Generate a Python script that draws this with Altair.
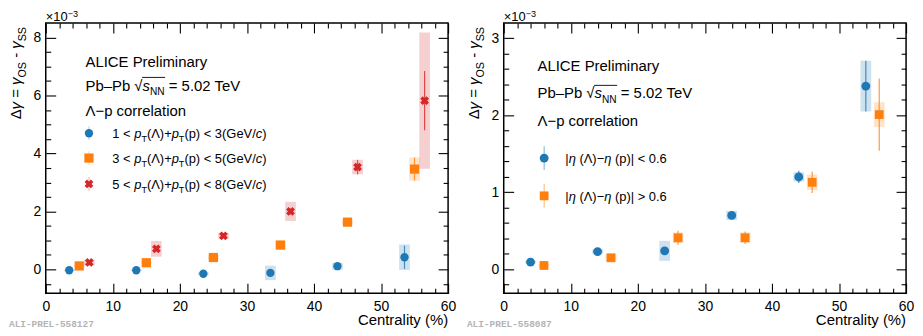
import altair as alt
import pandas as pd

# ---------------- values (units of 1e-3) ----------------
# Left panel: three pT(Lambda)+pT(p) ranges
pt_names = ["1-3", "3-5", "5-8"]
pt_cent = [
    [3.5, 13.5, 23.5, 33.5, 43.5, 53.5],
    [5.0, 15.0, 25.0, 35.0, 45.0, 55.0],
    [6.5, 16.5, 26.5, 36.5, 46.5, 56.5],
]
pt_val = [
    [-0.03, -0.03, -0.15, -0.12, 0.11, 0.42],
    [0.12, 0.23, 0.41, 0.84, 1.63, 3.46],
    [0.24, 0.71, 1.16, 2.00, 3.53, 5.82],
]
pt_stat = [
    [0.04, 0.04, 0.05, 0.06, 0.07, 0.40],
    [0.04, 0.05, 0.06, 0.08, 0.08, 0.40],
    [0.06, 0.10, 0.08, 0.10, 0.25, 1.02],
]
pt_syst = [
    [0.03, 0.03, 0.05, 0.25, 0.12, 0.44],
    [0.05, 0.05, 0.08, 0.15, 0.08, 0.40],
    [0.10, 0.27, 0.10, 0.33, 0.25, 2.35],
]

# Right panel: two |eta(Lambda)-eta(p)| ranges
eta_names = ["lt", "gt"]
eta_cent = [
    [4.0, 14.0, 24.0, 34.0, 44.0, 54.0],
    [6.0, 16.0, 26.0, 36.0, 46.0, 56.0],
]
eta_val = [
    [0.094, 0.23, 0.24, 0.70, 1.20, 2.38],
    [0.05, 0.15, 0.41, 0.41, 1.13, 2.01],
]
eta_stat = [
    [0.02, 0.02, 0.03, 0.04, 0.08, 0.33],
    [0.02, 0.03, 0.09, 0.08, 0.14, 0.47],
]
eta_syst = [
    [0.02, 0.03, 0.13, 0.06, 0.06, 0.33],
    [0.02, 0.05, 0.07, 0.07, 0.10, 0.16],
]

# axes
x_domain = [0, 60]
x_major = [0, 10, 20, 30, 40, 50, 60]
x_minor = [2, 4, 6, 8, 12, 14, 16, 18, 22, 24, 26, 28, 32, 34, 36, 38,
           42, 44, 46, 48, 52, 54, 56, 58]
yl_domain = [-0.82, 8.5]
yl_major = [0, 2, 4, 6, 8]
yl_minor = [-0.5, 0.5, 1, 1.5, 2.5, 3, 3.5, 4.5, 5, 5.5, 6.5, 7, 7.5]
yr_domain = [-0.31, 3.2]
yr_major = [0, 1, 2, 3]
yr_minor = [-0.2, 0.2, 0.4, 0.6, 0.8, 1.2, 1.4, 1.6, 1.8, 2.2, 2.4, 2.6, 2.8]

# texts
title_lines = ["ALICE Preliminary", "Λ−p correlation"]
pbpb_segs = [("Pb–Pb ", "n"), ("√", "n"), ("s", "i"), ("NN", "sub"), (" = 5.02 TeV", "n")]
pt_legend = [
    [("1 < ", "n"), ("p", "i"), ("T", "sub"), ("(Λ)+", "n"), ("p", "i"), ("T", "sub"),
     ("(p) < 3(GeV/", "n"), ("c", "i"), (")", "n")],
    [("3 < ", "n"), ("p", "i"), ("T", "sub"), ("(Λ)+", "n"), ("p", "i"), ("T", "sub"),
     ("(p) < 5(GeV/", "n"), ("c", "i"), (")", "n")],
    [("5 < ", "n"), ("p", "i"), ("T", "sub"), ("(Λ)+", "n"), ("p", "i"), ("T", "sub"),
     ("(p) < 8(GeV/", "n"), ("c", "i"), (")", "n")],
]
eta_legend = [
    [("|", "n"), ("η", "i"), (" (Λ)−", "n"), ("η", "i"), (" (p)| < 0.6", "n")],
    [("|", "n"), ("η", "i"), (" (Λ)−", "n"), ("η", "i"), (" (p)| > 0.6", "n")],
]
ytitle_segs = [("Δ", "n"), ("γ", "i"), (" = ", "n"), ("γ", "i"), ("OS", "sub"),
               (" - ", "n"), ("γ", "i"), ("SS", "sub")]
exp_segs = [("×10", "n"), ("−3", "sup")]
x_title = "Centrality (%)"
prel_tags = ["ALI-PREL-558127", "ALI-PREL-558087"]

# ---------------- style ----------------
FONT = "Liberation Sans"
BLUE, ORANGE, RED = "#1f77b4", "#ff7f0e", "#d62728"
W_PANEL, H_PANEL = 405, 272
BOX_HW = 0.8

# Arial / Liberation Sans advance widths (per 1000 em)
WID = {" ": 278, "(": 333, ")": 333, "+": 584, "-": 333, ".": 278, "/": 278,
       "<": 584, "=": 584, ">": 584, "|": 260, "%": 889,
       "A": 667, "C": 722, "E": 667, "G": 778, "I": 278, "L": 556, "N": 722,
       "O": 778, "P": 667, "S": 667, "T": 611, "V": 667,
       "a": 556, "b": 556, "c": 500, "e": 556, "i": 222, "l": 222, "m": 833,
       "n": 556, "o": 556, "p": 556, "r": 333, "s": 500, "t": 278, "v": 500,
       "y": 500, "–": 556, "−": 584, "Λ": 667, "η": 556, "γ": 500, "Δ": 668,
       "√": 549, "×": 584}


def tw(s, size):
    return sum(WID.get(ch, 556) for ch in s) * size / 1000.0


DUMMY = pd.DataFrame({"k": [0]})


def txt(text, x, y, size, italic=False, angle=0, align="left", color="black",
        font=FONT, weight="normal"):
    return alt.Chart(DUMMY).mark_text(
        text=text, fontSize=round(size, 2), fontStyle="italic" if italic else "normal",
        align=align, baseline="alphabetic", angle=angle, color=color, font=font,
        fontWeight=weight,
    ).encode(x=alt.value(round(x, 2)), y=alt.value(round(y, 2)))


def rich(segs, x0, y0, size, angle=0, sub=0.3, sup=0.27, rel=0.7):
    """Place each piece of a formatted string; spaces are turned into advances
    because SVG drops leading/trailing blanks of a text element."""
    out, spans, a = [], [], 0.0
    for s, kind in segs:
        small = kind in ("sub", "sup")
        fs = size * rel if small else size
        off = size * sub if kind == "sub" else (-size * sup if kind == "sup" else 0)
        lead = len(s) - len(s.lstrip(" "))
        core = s.strip(" ")
        a_draw = a + tw(" " * lead, fs)
        if angle == 0:
            px, py = x0 + a_draw, y0 + off
        else:
            px, py = x0 + off, y0 - a_draw
        if core:
            out.append(txt(core, px, py, fs, italic=(kind == "i"), angle=angle))
        w = tw(s, fs)
        spans.append((a, a + w))
        a += w
    return out, spans


def vrule(x, y1, y2, color, opacity=1.0, width=1.0):
    return alt.Chart(DUMMY).mark_rule(color=color, opacity=opacity, strokeWidth=width).encode(
        x=alt.value(x), y=alt.value(y1), y2=alt.value(y2))


def hrule(x1, x2, y, color="black", width=1.0):
    return alt.Chart(DUMMY).mark_rule(color=color, strokeWidth=width).encode(
        x=alt.value(x1), x2=alt.value(x2), y=alt.value(y))


def marker(x, y, shape, color, size, angle=0):
    return alt.Chart(DUMMY).mark_point(shape=shape, filled=True, color=color, size=size,
                                       angle=angle, opacity=1).encode(
        x=alt.value(x), y=alt.value(y))


def axis(orient, values, size, labels):
    kw = dict(orient=orient, values=values, tickSize=size, offset=-size, labels=labels,
              domain=False, grid=False, title=None, ticks=True, tickColor="black",
              tickWidth=1.1)
    if labels:
        kw.update(labelFont=FONT, labelFontSize=14, labelColor="black", labelFlush=False,
                  labelOverlap=False, format="d",
                  labelPadding=6 if orient == "bottom" else 5)
    return alt.Axis(**kw)


def build_df(names, cents, vals, stats, systs):
    rows = []
    for name, c, v, st, sy in zip(names, cents, vals, stats, systs):
        for ci, vi, sti, syi in zip(c, v, st, sy):
            rows.append({"series": name, "cent": ci, "val": vi, "stat": sti, "syst": syi})
    return pd.DataFrame(rows)


def panel(df, names, colors, shapes, ydom, ymaj, ymin, overlay, prel):
    xs = alt.Scale(domain=x_domain, nice=False, zero=False)
    ys = alt.Scale(domain=ydom, nice=False, zero=False)
    xaxes = [axis("bottom", x_major, 10, True), axis("bottom", x_minor, 5, False),
             axis("top", x_major, 10, False), axis("top", x_minor, 5, False)]
    yaxes = [axis("left", ymaj, 10, True), axis("left", ymin, 5, False),
             axis("right", ymaj, 10, False), axis("right", ymin, 5, False)]

    def ax(i, lst):
        return lst[i] if i < len(lst) else None

    cscale = alt.Scale(domain=names, range=colors)
    base = alt.Chart(df).transform_calculate(
        x0=f"datum.cent - {BOX_HW}", x1=f"datum.cent + {BOX_HW}",
        s0="datum.val - datum.syst", s1="datum.val + datum.syst",
        e0="datum.val - datum.stat", e1="datum.val + datum.stat")

    layers = []
    layers.append(base.mark_rect(opacity=0.22).encode(
        x=alt.X("x0:Q", scale=xs, axis=ax(0, xaxes)), x2="x1:Q",
        y=alt.Y("s0:Q", scale=ys, axis=ax(0, yaxes)), y2="s1:Q",
        color=alt.Color("series:N", scale=cscale, legend=None)))
    layers.append(base.mark_rule(opacity=0.8, strokeWidth=1.2).encode(
        x=alt.X("cent:Q", scale=xs, axis=ax(1, xaxes)),
        y=alt.Y("e0:Q", scale=ys, axis=ax(1, yaxes)), y2="e1:Q",
        color=alt.Color("series:N", scale=cscale, legend=None)))
    for i, (name, col, (shape, size, ang)) in enumerate(zip(names, colors, shapes)):
        layers.append(base.transform_filter(alt.datum.series == name).mark_point(
            filled=True, shape=shape, size=size, angle=ang, color=col, opacity=1).encode(
            x=alt.X("cent:Q", scale=xs, axis=ax(i + 2, xaxes)),
            y=alt.Y("val:Q", scale=ys, axis=ax(i + 2, yaxes))))

    # y title, exponent, x title, preliminary tag
    yt, _ = rich(ytitle_segs, -25, 97, 15, angle=270, sub=0.33, rel=0.72)
    ex, _ = rich(exp_segs, 0, -2, 13, sup=0.27, rel=0.7)
    layers += yt + ex
    layers.append(txt(x_title, W_PANEL, 304, 15, align="right"))
    layers.append(txt(prel, -37, 306, 9.5, color="#b4b4b4", font="Liberation Mono",
                      weight="bold"))
    layers += overlay
    return alt.layer(*layers).resolve_axis(x="independent", y="independent").properties(
        width=W_PANEL, height=H_PANEL)


def header(x0, ys):
    out = []
    out.append(txt(title_lines[0], x0, ys[0], 15))
    pb, spans = rich(pbpb_segs, x0, ys[1], 15, sub=0.3, rel=0.68)
    out += pb
    out.append(hrule(x0 + spans[2][0] - 0.5, x0 + spans[3][1] + 0.5, ys[1] - 13.2, width=0.9))
    out.append(txt(title_lines[1], x0, ys[2], 15))
    return out


# ---------- left panel ----------
left_df = build_df(pt_names, pt_cent, pt_val, pt_stat, pt_syst)
left_colors = [BLUE, ORANGE, RED]
left_shapes = [("circle", 70, 0), ("square", 86, 0), ("cross", 80, 45)]
ov_left = [alt.Chart(DUMMY).mark_rect(opacity=0).encode(
    x=alt.value(-37), x2=alt.value(-36), y=alt.value(-13), y2=alt.value(-12))]
ov_left += header(40, [44, 68, 94])
leg_y = [111, 136, 162]
for segs, col, (shape, size, ang), yy in zip(pt_legend, left_colors, left_shapes, leg_y):
    ov_left.append(vrule(43.5, yy - 7, yy + 7, col, opacity=0.35))
    ov_left.append(marker(43.5, yy, shape, col, size, ang))
    ov_left += rich(segs, 67, yy + 5, 13, sub=0.3, rel=0.7)[0]
left = panel(left_df, pt_names, left_colors, left_shapes, yl_domain, yl_major, yl_minor,
             ov_left, prel_tags[0])

# ---------- right panel ----------
right_df = build_df(eta_names, eta_cent, eta_val, eta_stat, eta_syst)
right_colors = [BLUE, ORANGE]
right_shapes = [("circle", 80, 0), ("square", 78, 0)]
ov_right = header(34, [48, 76, 104])
leg_y2 = [136, 174]
for segs, col, (shape, size, ang), yy in zip(eta_legend, right_colors, right_shapes, leg_y2):
    ov_right.append(vrule(40.7, yy - 12, yy + 12, col, opacity=0.6))
    ov_right.append(marker(40.7, yy, shape, col, size, ang))
    ov_right += rich(segs, 62, yy + 5, 13)[0]
right = panel(right_df, eta_names, right_colors, right_shapes, yr_domain, yr_major, yr_minor,
              ov_right, prel_tags[1])

chart = alt.hconcat(left, right, spacing=56, bounds="flush", padding=0).configure(
    font=FONT).configure_view(stroke="black", strokeWidth=1.5)

chart.save("out.html", embed_options={"renderer": "svg", "actions": False})
